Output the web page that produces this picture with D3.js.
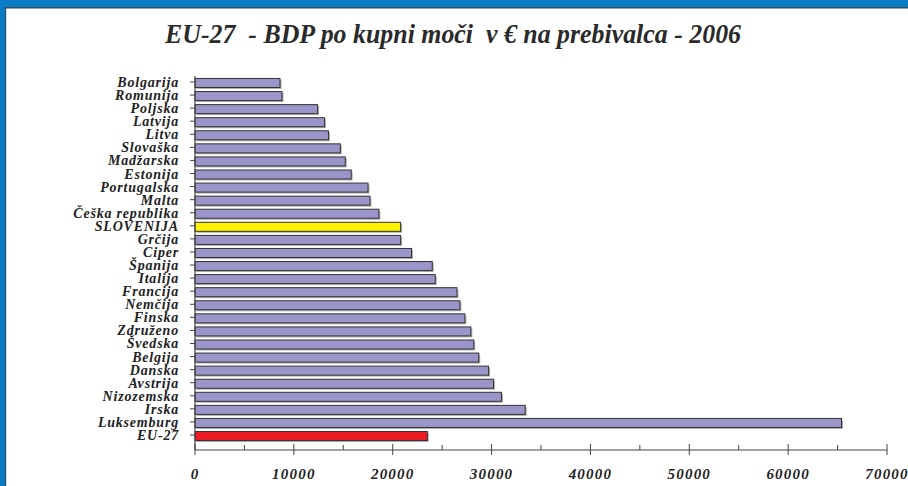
<!DOCTYPE html>
<html>
<head>
<meta charset="utf-8">
<script src="https://cdn.jsdelivr.net/npm/d3@7"></script>
<style>
  body { margin: 0; background: #fff; }
  svg { display: block; }
  .lbl { font-family: "Liberation Serif", "Times New Roman", serif; font-weight: bold; font-style: italic; fill: #222; }
</style>
</head>
<body>
<div id="chart"></div>
<script>
const categories = ['Bolgarija', 'Romunija', 'Poljska', 'Latvija', 'Litva', 'Slovaška', 'Madžarska',
    'Estonija', 'Portugalska', 'Malta', 'Češka republika', 'SLOVENIJA', 'Grčija', 'Ciper', 'Španija',
    'Italija', 'Francija', 'Nemčija', 'Finska', 'Združeno', 'Švedska', 'Belgija', 'Danska', 'Avstrija',
    'Nizozemska', 'Irska', 'Luksemburg', 'EU-27'];
const values = [8600, 8800, 12400, 13100, 13500, 14700, 15200, 15800, 17500, 17700, 18600, 20800, 20800,
    21900, 24000, 24300, 26500, 26800, 27300, 27900, 28200, 28700, 29700, 30200, 31000, 33400, 65400, 23500];
const xTicks = [0, 10000, 20000, 30000, 40000, 50000, 60000, 70000];
const title = 'EU-27  - BDP po kupni moči  v € na prebivalca - 2006';

const width = 908;
const height = 486;

const svg = d3.select('#chart').append('svg')
    .attr('width', width)
    .attr('height', height);

// frame: blue bands top and left
svg.append('rect').attr('x', 0).attr('y', 0).attr('width', width).attr('height', 7).attr('fill', '#0a7cc6');
svg.append('rect').attr('x', 0).attr('y', 7).attr('width', width).attr('height', 1.5).attr('fill', '#2d4b66');
svg.append('rect').attr('x', 0).attr('y', 0).attr('width', 5).attr('height', height).attr('fill', '#0a7cc6');
svg.append('rect').attr('x', 5).attr('y', 7).attr('width', 1.2).attr('height', height).attr('fill', '#2d4b66');

svg.append('text')
    .attr('class', 'lbl')
    .attr('x', 453)
    .attr('y', 43)
    .attr('text-anchor', 'middle')
    .attr('textLength', 576)
    .attr('lengthAdjust', 'spacingAndGlyphs')
    .style('font-size', '27px')
    .style('white-space', 'pre')
    .style('fill', '#2a2a2a')
    .text(title);

const x = d3.scaleLinear().domain([0, 70000]).range([195, 887]);
const y = d3.scaleBand().domain(categories).range([76.5, 442.5]).paddingInner(0.31).paddingOuter(0.15);

function barColor(name) {
    if (name === 'SLOVENIJA') return '#fff200';
    if (name === 'EU-27') return '#ed1c24';
    return '#9b96c9';
}

const bars = svg.append('g');
// shadows
bars.selectAll('.shadow')
    .data(categories)
    .enter().append('rect')
    .attr('x', x(0) + 1.5)
    .attr('y', d => y(d) + 1.5)
    .attr('width', (d, i) => x(values[i]) - x(0))
    .attr('height', y.bandwidth())
    .attr('fill', '#b0b0b0');

bars.selectAll('.bar')
    .data(categories)
    .enter().append('rect')
    .attr('x', x(0))
    .attr('y', d => y(d))
    .attr('width', (d, i) => x(values[i]) - x(0))
    .attr('height', y.bandwidth())
    .attr('fill', d => barColor(d))
    .attr('stroke', '#333')
    .attr('stroke-width', 1);

// y axis
const yAxis = svg.append('g');
yAxis.append('line')
    .attr('x1', x(0)).attr('x2', x(0))
    .attr('y1', 76).attr('y2', 450)
    .attr('stroke', '#444').attr('stroke-width', 1.2);
yAxis.selectAll('.ytick')
    .data(categories)
    .enter().append('line')
    .attr('x1', x(0) - 5).attr('x2', x(0))
    .attr('y1', d => y(d) + y.bandwidth() / 2 - 1)
    .attr('y2', d => y(d) + y.bandwidth() / 2 - 1)
    .attr('stroke', '#444');
yAxis.selectAll('.ylab')
    .data(categories)
    .enter().append('text')
    .attr('class', 'lbl')
    .attr('x', 179)
    .attr('y', d => y(d) + y.bandwidth() / 2 + 4)
    .attr('text-anchor', 'end')
    .style('font-size', '14px')
    .style('letter-spacing', '0.8px')
    .text(d => d);

// x axis
const xAxis = svg.append('g');
xAxis.append('line')
    .attr('x1', x(0)).attr('x2', x(70000))
    .attr('y1', 450).attr('y2', 450)
    .attr('stroke', '#444').attr('stroke-width', 1.2);
xAxis.selectAll('.xtick')
    .data(xTicks)
    .enter().append('line')
    .attr('x1', d => x(d)).attr('x2', d => x(d))
    .attr('y1', 444).attr('y2', 455)
    .attr('stroke', '#444');
xAxis.selectAll('.xminor')
    .data(xTicks.slice(0, -1).map(d => d + 5000))
    .enter().append('line')
    .attr('x1', d => x(d)).attr('x2', d => x(d))
    .attr('y1', 445).attr('y2', 450)
    .attr('stroke', '#444');
xAxis.selectAll('.xlab')
    .data(xTicks)
    .enter().append('text')
    .attr('class', 'lbl')
    .attr('x', d => x(d))
    .attr('y', 479)
    .attr('text-anchor', 'middle')
    .style('font-size', '15px')
    .style('letter-spacing', '1.2px')
    .text(d => d);
</script>
</body>
</html>
